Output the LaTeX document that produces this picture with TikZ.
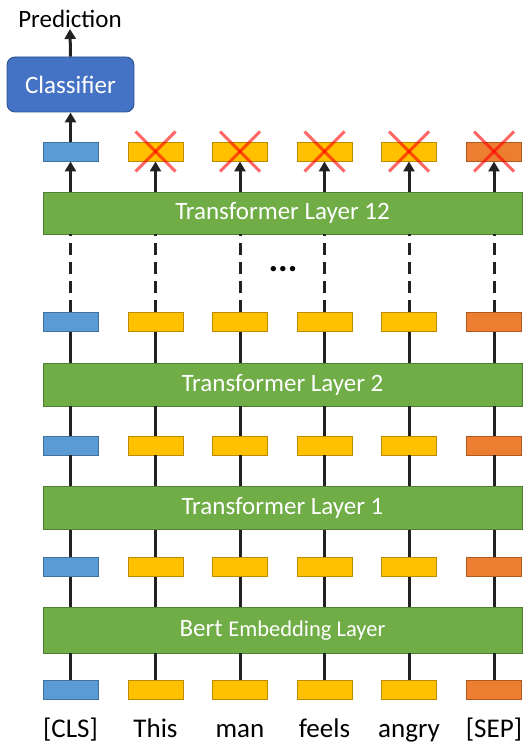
\documentclass[tikz,border=0pt]{standalone}
\usepackage{fontspec}
\setmainfont{Carlito}
\usetikzlibrary{arrows.meta}
\definecolor{cblue}{HTML}{5B9BD5}
\definecolor{cblueD}{HTML}{41719C}
\definecolor{cyel}{HTML}{FFC000}
\definecolor{cyelD}{HTML}{BC8C00}
\definecolor{corg}{HTML}{ED7D31}
\definecolor{corgD}{HTML}{AE5A21}
\definecolor{cgreen}{HTML}{70AD47}
\definecolor{cgreenD}{HTML}{507E32}
\definecolor{cclf}{HTML}{4472C4}
\definecolor{cclfD}{HTML}{2F528F}
\definecolor{cline}{HTML}{222222}
\begin{document}
\begin{tikzpicture}[x=1pt,y=-1pt,
  tok/.style={draw, line width=0.9pt, minimum width=55pt, minimum height=19pt, inner sep=0pt},
  cls/.style={tok, fill=cblue, draw=cblueD},
  wrd/.style={tok, fill=cyel, draw=cyelD},
  sep/.style={tok, fill=corg, draw=corgD},
  layer/.style={draw=cgreenD, fill=cgreen, line width=0.9pt, minimum width=479pt, minimum height=42pt, inner sep=0pt, text=white, font=\fontsize{25}{30}\selectfont},
  conn/.style={line width=3pt, draw=cline},
  arr/.style={conn, -{Triangle[length=10pt,width=11pt]}},
  dsh/.style={conn, dash pattern=on 12pt off 7pt},
  xmark/.style={draw=red, draw opacity=0.6, line width=3pt},
  lbl/.style={font=\fontsize{27}{32}\selectfont, inner sep=0pt, anchor=base}
]
\useasboundingbox (0,0) rectangle (523,743);

% layers
\node[layer, minimum height=46pt] (emb) at (282.5,630) {\fontsize{25}{30}\selectfont Bert \fontsize{22.5}{27}\selectfont Embedding Layer};
\node[layer, minimum height=43pt] (L1) at (282.5,508) {Transformer Layer 1};
\node[layer, minimum height=43pt] (L2) at (282.5,384.5) {Transformer Layer 2};
\node[layer] (L12) at (282.5,213) {Transformer Layer 12};

% token boxes and labels
\foreach \x/\s/\t [count=\i] in {70.5/cls/{[CLS]},155.5/wrd/This,240/wrd/man,324.5/wrd/feels,409/wrd/angry,494/sep/{[SEP]}}{
  \node[\s] (r0\i) at (\x,690) {};
  \node[\s] (r1\i) at (\x,567) {};
  \node[\s] (r2\i) at (\x,445.5) {};
  \node[\s] (r3\i) at (\x,322) {};
  \node[\s] (r4\i) at (\x,151.5) {};
  \node[lbl] (lab\i) at (\x,737) {\t};
}

% connectors
\foreach \i in {1,...,6}{
  \draw[conn] (r0\i.north) -- (r0\i.north |- emb.south);
  \draw[conn] (emb.north -| r1\i) -- (r1\i.south);
  \draw[conn] (r1\i.north) -- (r1\i.north |- L1.south);
  \draw[conn] (L1.north -| r2\i) -- (r2\i.south);
  \draw[conn] (r2\i.north) -- (r2\i.north |- L2.south);
  \draw[conn] (L2.north -| r3\i) -- (r3\i.south);
  \draw[dsh] (r3\i.north) -- (r3\i.north |- L12.south);
  \draw[arr] (L12.north -| r4\i) -- (r4\i.south);
}

% crosses
\foreach \i in {2,...,6}{
  \draw[xmark] ([shift={(-20,-20)}]r4\i.center) -- ([shift={(20,20)}]r4\i.center);
  \draw[xmark] ([shift={(-20,20)}]r4\i.center) -- ([shift={(20,-20)}]r4\i.center);
}

% ellipsis
\node[font=\fontsize{36}{40}\selectfont\bfseries, inner sep=0pt, anchor=base] (dots) at (283,271) {...};

% classifier and prediction
\node[draw=cclfD, fill=cclf, line width=0.9pt, rounded corners=8pt, minimum width=127pt, minimum height=55pt, inner sep=0pt, text=white, font=\fontsize{25}{30}\selectfont] (clf) at (70.5,84.5) {Classifier};
\node[font=\fontsize{25}{30}\selectfont, inner sep=1pt] (pred) at (70,19) {Prediction};
\draw[arr] (r41.north) -- (clf.south);
\draw[arr] (clf.north) -- (pred.south);
\end{tikzpicture}
\end{document}
